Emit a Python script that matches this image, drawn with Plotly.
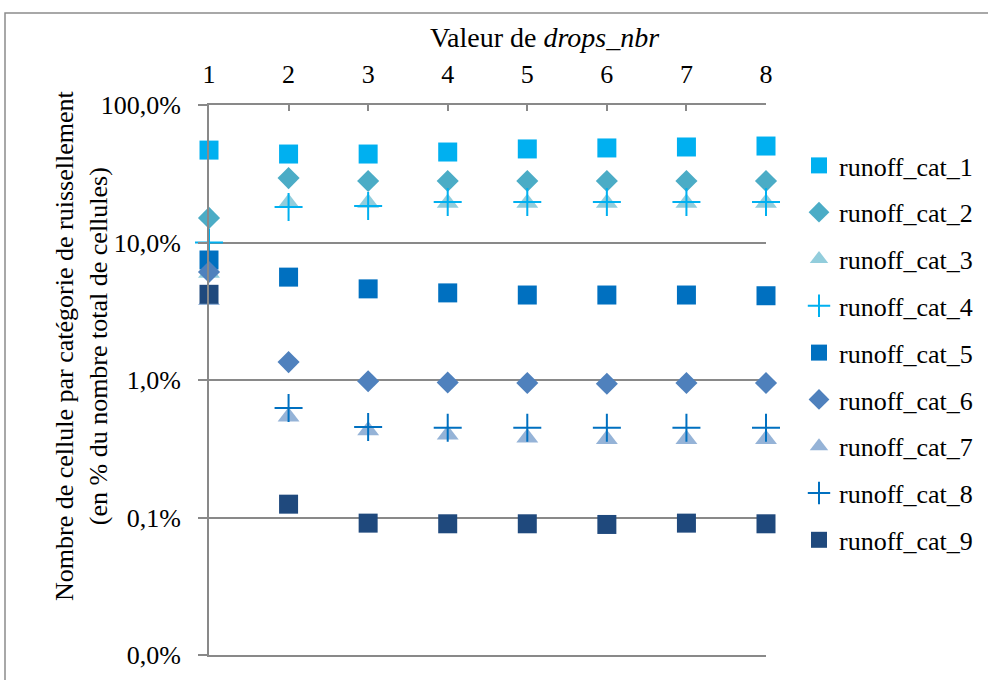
import plotly.graph_objects as go

drops_nbr = [1, 2, 3, 4, 5, 6, 7, 8]
series_names = ["runoff_cat_1", "runoff_cat_2", "runoff_cat_3", "runoff_cat_4", "runoff_cat_5",
                "runoff_cat_6", "runoff_cat_7", "runoff_cat_8", "runoff_cat_9"]
runoff_cat_1 = [47.0, 44.0, 44.0, 45.5, 47.9, 48.7, 49.5, 50.3]
runoff_cat_2 = [15.1, 29.4, 28.0, 28.0, 28.0, 28.0, 28.0, 28.0]
runoff_cat_3 = [6.0, 19.4, 19.4, 19.4, 19.4, 19.4, 19.4, 19.4]
runoff_cat_4 = [10.0, 18.1, 18.4, 19.7, 19.7, 19.7, 19.7, 19.7]
runoff_cat_5 = [7.46, 5.6, 4.6, 4.3, 4.15, 4.15, 4.15, 4.1]
runoff_cat_6 = [6.1, 1.35, 0.98, 0.96, 0.95, 0.94, 0.95, 0.95]
runoff_cat_7 = [3.8, 0.54, 0.43, 0.40, 0.38, 0.37, 0.37, 0.37]
runoff_cat_8 = [None, 0.625, 0.455, 0.45, 0.45, 0.45, 0.45, 0.45]
runoff_cat_9 = [4.2, 0.125, 0.091, 0.09, 0.09, 0.089, 0.091, 0.09]
y_tickvals = [100, 10, 1, 0.1, 0.01]
y_ticktext = ["100,0%", "10,0%", "1,0%", "0,1%", "0,0%"]

values = [runoff_cat_1, runoff_cat_2, runoff_cat_3, runoff_cat_4, runoff_cat_5,
          runoff_cat_6, runoff_cat_7, runoff_cat_8, runoff_cat_9]
colors = ["#00B0F0", "#4BACC6", "#92CDDC", "#00B0F0", "#0070C0",
          "#4F81BD", "#95B3D7", "#0070C0", "#1F497D"]
symbols = ["square", "diamond", "triangle-up", "cross-thin", "square",
           "diamond", "triangle-up", "cross-thin", "square"]
sizes = [19, 17, 19, 20, 19, 17, 19, 20, 19]

FONT = "Liberation Serif"
FS = 26
GRID = "#898989"
fig = go.Figure()
for name, vals, col, sym, sz in zip(series_names, values, colors, symbols, sizes):
    marker = dict(color=col, symbol=sym, size=sz)
    if sym == "cross-thin":
        marker["line"] = dict(color=col, width=2)
    else:
        marker["line"] = dict(width=0)
    fig.add_trace(go.Scatter(x=drops_nbr, y=vals, mode="markers", name=name,
                             marker=marker, legendgroup=name, cliponaxis=False))

L, R, T, B = 209, 766, 105, 655
W, H = 988, 680
pw, ph = R - L, B - T

fig.update_layout(
    width=W, height=H,
    margin=dict(l=L, r=W - R, t=T, b=H - B, autoexpand=False),
    paper_bgcolor="white", plot_bgcolor="white",
    font=dict(family=FONT, size=FS, color="#000000"),
    showlegend=True,
    legend=dict(x=(799 - L) / pw, y=(B - 142) / ph, xanchor="left", yanchor="top",
                font=dict(family=FONT, size=FS), tracegroupgap=10,
                bgcolor="rgba(0,0,0,0)", itemwidth=30),
    xaxis=dict(side="top", range=[1, 8], tickvals=drops_nbr, ticktext=[str(v) for v in drops_nbr],
               showgrid=False, zeroline=False, automargin=False,
               showline=True, linecolor=GRID, linewidth=2, mirror=True,
               ticks="inside", ticklen=6, tickwidth=2, tickcolor=GRID,
               tickfont=dict(family=FONT, size=FS), ticklabelstandoff=10),
    yaxis=dict(type="log", range=[-2, 2], tickvals=y_tickvals, ticktext=y_ticktext,
               showgrid=True, gridcolor=GRID, gridwidth=2, automargin=False,
               showline=True, linecolor=GRID, linewidth=2,
               ticks="outside", ticklen=9, tickcolor=GRID, tickwidth=2,
               zeroline=False, tickfont=dict(family=FONT, size=FS), ticklabelstandoff=12),
)

fig.add_annotation(text="Valeur de <i>drops_nbr</i>", xref="paper", yref="paper",
                   x=(544 - L) / pw, y=(B - 37) / ph, showarrow=False,
                   font=dict(family=FONT, size=28), xanchor="center", yanchor="middle")
fig.add_annotation(text="Nombre de cellule par catégorie de ruissellement<br>(en % du nombre total de cellules)",
                   xref="paper", yref="paper", x=(81 - L) / pw, y=(B - 346) / ph,
                   showarrow=False, textangle=-90, font=dict(family=FONT, size=FS),
                   xanchor="center", yanchor="middle")
fig.add_shape(type="rect", xref="paper", yref="paper",
              x0=(5 - L) / pw, x1=(1000 - L) / pw, y0=(B - 700) / ph, y1=(B - 13) / ph,
              line=dict(color="#8c8c8c", width=1.5), fillcolor="rgba(0,0,0,0)", layer="below")

fig.write_html("out.html", config={"displayModeBar": False},
               post_script="document.body.style.margin='0';")
